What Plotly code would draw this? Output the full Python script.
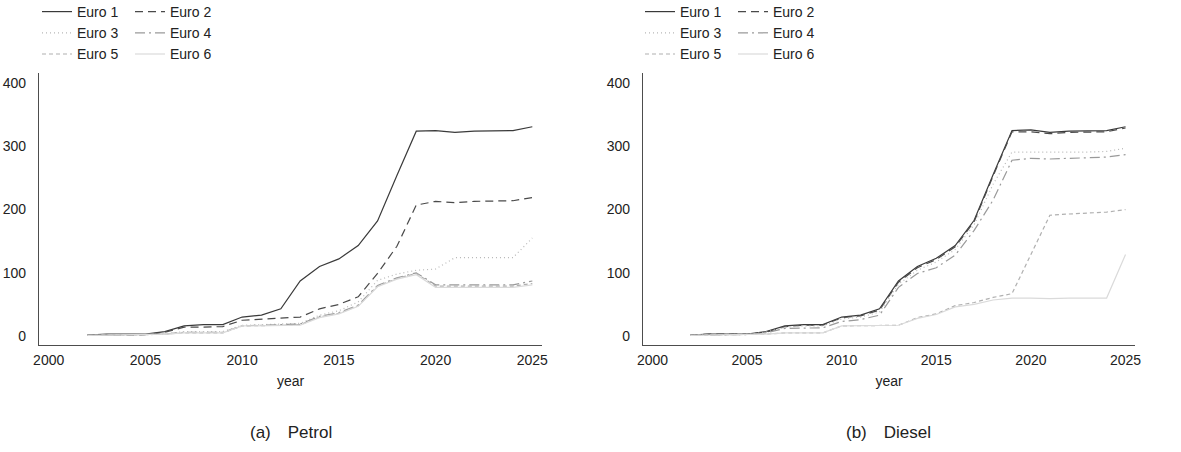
import plotly.graph_objects as go

# Cumulative counts per emission standard, 2002-2025
years = list(range(2002, 2026))

petrol_euro1 = [1.5, 3, 3, 3, 7, 16, 18, 18, 30, 33, 43, 87, 110, 122, 143, 182, 254, 324, 325, 322, 324, 324, 325, 331]
petrol_euro2 = [1.5, 2, 2, 2, 6, 14, 14, 15, 25, 27, 29, 30, 43, 50, 62, 99, 142, 207, 213, 211, 213, 213, 214, 219]
petrol_euro3 = [1, 1.5, 1.5, 1.5, 3.5, 7, 7, 7, 17, 18, 19, 20, 33, 40, 54, 88, 98, 104, 106, 124, 124, 124, 124, 155]
petrol_euro4 = [1, 1.5, 1.5, 1.5, 3, 6, 6, 6, 16, 17, 17, 19, 31, 37, 49, 80, 92, 100, 81, 81, 81, 81, 81, 87]
petrol_euro5 = [1, 1.5, 1.5, 1.5, 3, 5, 5, 5, 16, 16, 17, 18, 30, 36, 48, 79, 91, 99, 79, 79, 79, 79, 79, 83]
petrol_euro6 = [1, 1.5, 1.5, 1.5, 3, 5, 5, 5, 16, 16, 16, 17, 29, 35, 47, 78, 90, 97, 77, 77, 77, 77, 77, 81]

diesel_euro1 = [1.5, 3, 3, 3, 7, 16, 18, 18, 30, 33, 43, 87, 110, 123, 143, 183, 255, 325, 326, 322, 324, 324, 325, 331]
diesel_euro2 = [1.5, 3, 3, 3, 6, 15, 17, 17, 29, 32, 41, 85, 108, 121, 141, 181, 253, 323, 323, 320, 322, 322, 323, 329]
diesel_euro3 = [1.5, 2.5, 2.5, 2.5, 6, 14, 16, 16, 27, 30, 38, 82, 104, 117, 137, 176, 240, 291, 291, 290, 291, 291, 292, 297]
diesel_euro4 = [1, 2, 2, 2, 5, 12, 13, 13, 23, 26, 33, 77, 99, 108, 128, 167, 215, 278, 281, 280, 281, 282, 283, 287]
diesel_euro5 = [1, 1.5, 1.5, 1.5, 3, 5, 5, 5, 16, 16, 16, 17, 29, 35, 48, 53, 61, 67, 129, 191, 193, 194, 196, 200]
diesel_euro6 = [1, 1.5, 1.5, 1.5, 3, 5, 5, 5, 16, 16, 16, 17, 28, 34, 46, 50, 57, 60, 60, 59, 60, 60, 60, 129]

series_names = ["Euro 1", "Euro 2", "Euro 3", "Euro 4", "Euro 5", "Euro 6"]
petrol = [petrol_euro1, petrol_euro2, petrol_euro3, petrol_euro4, petrol_euro5, petrol_euro6]
diesel = [diesel_euro1, diesel_euro2, diesel_euro3, diesel_euro4, diesel_euro5, diesel_euro6]

# Greyscale line styles, one per standard
styles = [
    dict(color="#3a3a3a", dash="solid", width=1.2),
    dict(color="#4a4a4a", dash="8px,5px", width=1.2),
    dict(color="#b8b8b8", dash="1px,3px", width=1.2),
    dict(color="#9a9a9a", dash="10px,4px,2px,4px", width=1.2),
    dict(color="#b0b0b0", dash="4px,3px", width=1.2),
    dict(color="#dadada", dash="solid", width=1.2),
]

FONT = "Liberation Sans, Arial, sans-serif"
W, H = 1181, 452

fig = go.Figure()

panels = [("x", "y", "legend", "p", petrol), ("x2", "y2", "legend2", "d", diesel)]
for xa, ya, leg, tag, data in panels:
    for i, (name, vals) in enumerate(zip(series_names, data)):
        fig.add_trace(go.Scatter(
            x=years, y=vals, name=name, mode="lines",
            line=styles[i], xaxis=xa, yaxis=ya, legend=leg,
            legendgroup=f"{tag}{i % 2}",
        ))

def px_x(v):
    return v / W

def px_y(v):
    return 1 - v / H

axis_common = dict(
    showgrid=False, zeroline=False, showline=True, linecolor="#4d4d4d",
    linewidth=1.3, ticks="", tickfont=dict(family=FONT, size=14, color="#222"),
)
x_common = dict(axis_common, range=[1999.5, 2025.5], tickvals=[2000, 2005, 2010, 2015, 2020, 2025],
                ticklabelstandoff=2,
                title=dict(text="year", font=dict(family=FONT, size=14, color="#222"), standoff=9))
y_common = dict(axis_common, range=[-14.2, 416], tickvals=[0, 100, 200, 300, 400], ticklabelstandoff=9)

ydom = [px_y(345), px_y(73)]
legend_common = dict(
    orientation="h", traceorder="grouped", xanchor="left", yanchor="top",
    font=dict(family=FONT, size=14, color="#222"), bgcolor="rgba(0,0,0,0)",
    entrywidth=48, borderwidth=0,
)

caption_font = dict(family=FONT, size=17, color="#222")

fig.update_layout(
    width=W, height=H,
    margin=dict(l=0, r=0, t=0, b=0, autoexpand=False),
    paper_bgcolor="white", plot_bgcolor="white",
    xaxis=dict(x_common, domain=[px_x(39), px_x(542)], anchor="y"),
    yaxis=dict(y_common, domain=ydom, anchor="x"),
    xaxis2=dict(x_common, domain=[px_x(643), px_x(1135)], anchor="y2"),
    yaxis2=dict(y_common, domain=ydom, anchor="x2"),
    legend=dict(legend_common, x=px_x(37), y=px_y(-4)),
    legend2=dict(legend_common, x=px_x(640), y=px_y(-4)),
    annotations=[
        dict(text="(a)\u2002\u2002Petrol", x=px_x(291), y=px_y(432), xref="paper", yref="paper",
             xanchor="center", yanchor="middle", showarrow=False, font=caption_font),
        dict(text="(b)\u2002\u2002Diesel", x=px_x(889), y=px_y(432), xref="paper", yref="paper",
             xanchor="center", yanchor="middle", showarrow=False, font=caption_font),
    ],
)

fig.write_html("out.html")
